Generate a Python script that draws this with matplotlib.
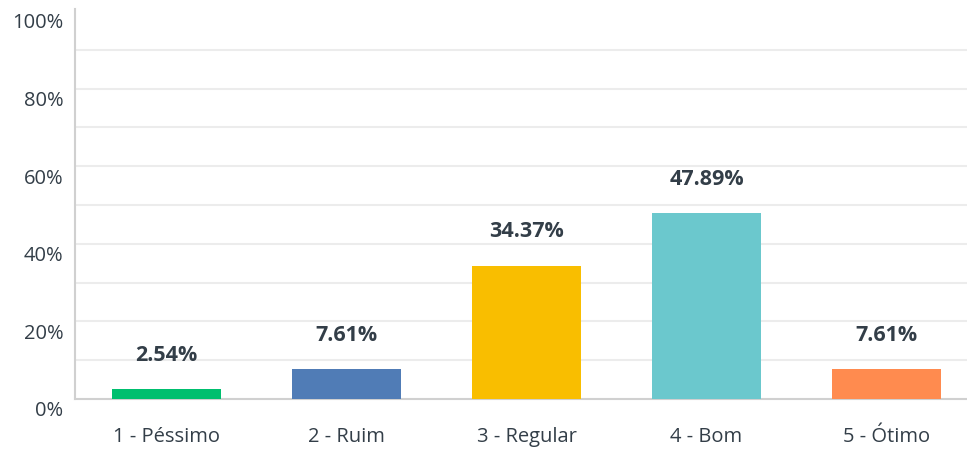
import matplotlib.pyplot as plt
from matplotlib.transforms import offset_copy

categories = ['1 - Péssimo', '2 - Ruim', '3 - Regular', '4 - Bom', '5 - Ótimo']
values = [2.54, 7.61, 34.37, 47.89, 7.61]
colors = ['#00bf6f', '#507cb6', '#f9be00', '#6bc8cd', '#ff8b4f']
yticks = [0, 20, 40, 60, 80, 100]

plt.rcParams['font.family'] = ['Open Sans', 'DejaVu Sans']
text_color = '#333e48'

fig = plt.figure(figsize=(9.67, 4.5), dpi=100)
ax = fig.add_axes([75 / 967, 51 / 450, 892 / 967, 390 / 450])

x = list(range(len(categories)))
ax.bar(x, values, width=0.605, color=colors, zorder=3)

# rótulos de valor acima das barras
for xi, v in zip(x, values):
    tr = offset_copy(ax.transData, fig=fig, x=0, y=34, units='dots')
    ax.text(xi, v, f'{v:.2f}%', transform=tr, ha='center', va='center',
            fontsize=15.5, fontweight='bold', color=text_color)

ax.set_xlim(-0.508, 4.447)
ax.set_ylim(0, 100.5)

# linhas de grade a cada 10%, sem a de 100%
for g in range(10, 100, 10):
    ax.axhline(g, color='#ececec', linewidth=1.5, zorder=0)

ax.set_yticks(yticks)
ax.set_yticklabels([f'{t}%' for t in yticks])
ax.tick_params(axis='y', length=0, pad=8.5, labelsize=14.5, labelcolor=text_color)
for lab in ax.get_yticklabels():
    lab.set_transform(offset_copy(lab.get_transform(), fig=fig, x=0, y=-10, units='dots'))

ax.set_xticks(x)
ax.set_xticklabels(categories)
ax.tick_params(axis='x', length=0, pad=20.5, labelsize=14.5, labelcolor=text_color)

for side in ['top', 'right']:
    ax.spines[side].set_visible(False)
ax.spines['left'].set_color('#d0d0d0')
ax.spines['bottom'].set_color('#d0d0d0')
ax.spines['left'].set_linewidth(1.5)
ax.spines['bottom'].set_linewidth(1.5)

fig.savefig('out.png', dpi=100)
